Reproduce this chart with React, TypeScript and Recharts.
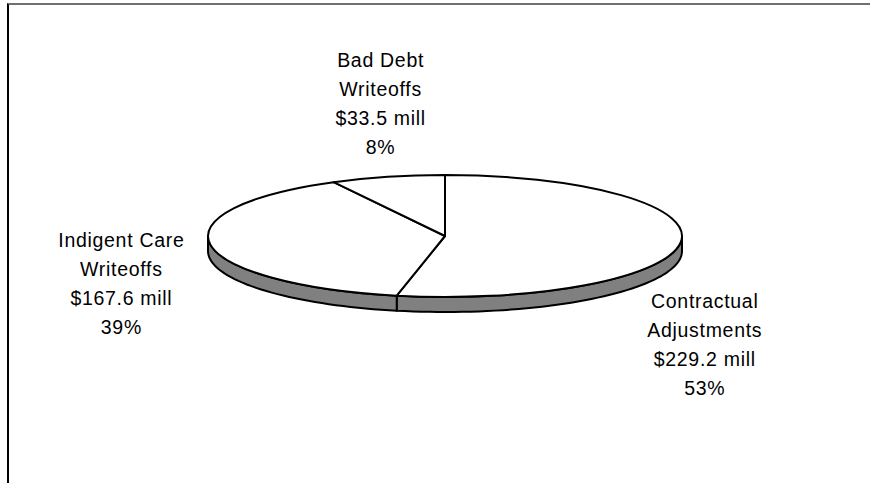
import React from 'react';
import { PieChart, Pie } from 'recharts';

// revenue deductions, $ millions
const categories = ['Contractual Adjustments', 'Indigent Care Writeoffs', 'Bad Debt Writeoffs'];
const amounts = [229.2, 167.6, 33.5];

const data = categories.map((name, i) => ({ name, value: amounts[i] }));

// 3d look
const TILT = 61 / 237;
const DEPTH = 15;
const SIDE_FILL = '#808080';
const FONT = '"Liberation Sans", Arial, sans-serif';
const LINE_H = 29;
// where each label's first baseline sits relative to the rim point at its mid angle
const labelNudge = [
  { dx: 24, dy: 66 },
  { dx: -89, dy: 2 },
  { dx: -7, dy: -110 },
];

const rad = (d: number) => (d * Math.PI) / 180;

const rimPoint = (cx: number, cy: number, rx: number, ry: number, deg: number) => [
  cx + rx * Math.cos(rad(deg)),
  cy - ry * Math.sin(rad(deg)),
];

const EllipseSlice = (props: any) => {
  const { cx, cy, outerRadius, startAngle, endAngle } = props;
  const rx = outerRadius;
  const ry = outerRadius * TILT;
  const [sx, sy] = rimPoint(cx, cy, rx, ry, startAngle);
  const [ex, ey] = rimPoint(cx, cy, rx, ry, endAngle);
  const large = Math.abs(endAngle - startAngle) > 180 ? 1 : 0;
  const sweep = startAngle > endAngle ? 1 : 0;
  const top = `M${cx},${cy} L${sx},${sy} A${rx},${ry} 0 ${large} ${sweep} ${ex},${ey} Z`;

  // front wall: only the part of the slice on the lower half of the ellipse
  const lo = Math.min(startAngle, endAngle);
  const hi = Math.max(startAngle, endAngle);
  const sides: string[] = [];
  for (let k = -2; k <= 1; k++) {
    const a = Math.max(lo, -180 + 360 * k);
    const b = Math.min(hi, 360 * k);
    if (b - a <= 0.01) continue;
    const n = Math.max(4, Math.ceil((b - a) / 2));
    const upper: string[] = [];
    const lower: string[] = [];
    for (let j = 0; j <= n; j++) {
      const d = a + ((b - a) * j) / n;
      const [x, y] = rimPoint(cx, cy, rx, ry, d);
      upper.push(`${x},${y}`);
      lower.unshift(`${x},${y + DEPTH}`);
    }
    sides.push(`M${upper.join(' L')} L${lower.join(' L')} Z`);
  }

  return (
    <g>
      {sides.map((d, i) => (
        <path key={i} d={d} fill={SIDE_FILL} stroke="#000" strokeWidth={2} strokeLinejoin="round" />
      ))}
      <path d={top} fill="#fff" stroke="#000" strokeWidth={2} strokeLinejoin="round" />
    </g>
  );
};

const renderLabel = (props: any) => {
  const { cx, cy, outerRadius, midAngle, percent, name, value, index } = props;
  const [px, py] = rimPoint(cx, cy, outerRadius, outerRadius * TILT, midAngle);
  const x = px + labelNudge[index].dx;
  const y = py + labelNudge[index].dy;
  const cut = name.lastIndexOf(' ');
  const lines = [name.slice(0, cut), name.slice(cut + 1), `$${value} mill`, `${Math.round(percent * 100)}%`];
  return (
    <text x={x} y={y} textAnchor="middle" fontFamily={FONT} fontSize={19.5} letterSpacing={0.7} fill="#000">
      {lines.map((t, i) => (
        <tspan key={i} x={x} dy={i === 0 ? 0 : LINE_H}>
          {t}
        </tspan>
      ))}
    </text>
  );
};

export default function App() {
  return (
    <div style={{ position: 'absolute', left: 0, top: 0, width: 870, height: 483, background: '#fff' }}>
      <div
        style={{
          position: 'absolute',
          left: 7,
          top: 3,
          right: 0,
          bottom: 0,
          borderTop: '2px solid #707070',
          borderLeft: '2px solid #000',
        }}
      />
      <PieChart width={870} height={483} margin={{ top: 0, right: 0, bottom: 0, left: 0 }} style={{ position: 'absolute', left: 0, top: 0 }}>
        <Pie
          data={data}
          dataKey="value"
          nameKey="name"
          cx={445}
          cy={236}
          outerRadius={237}
          startAngle={90}
          endAngle={-270}
          stroke="none"
          shape={EllipseSlice}
          label={renderLabel}
          labelLine={false}
          isAnimationActive={false}
        />
      </PieChart>
    </div>
  );
}
